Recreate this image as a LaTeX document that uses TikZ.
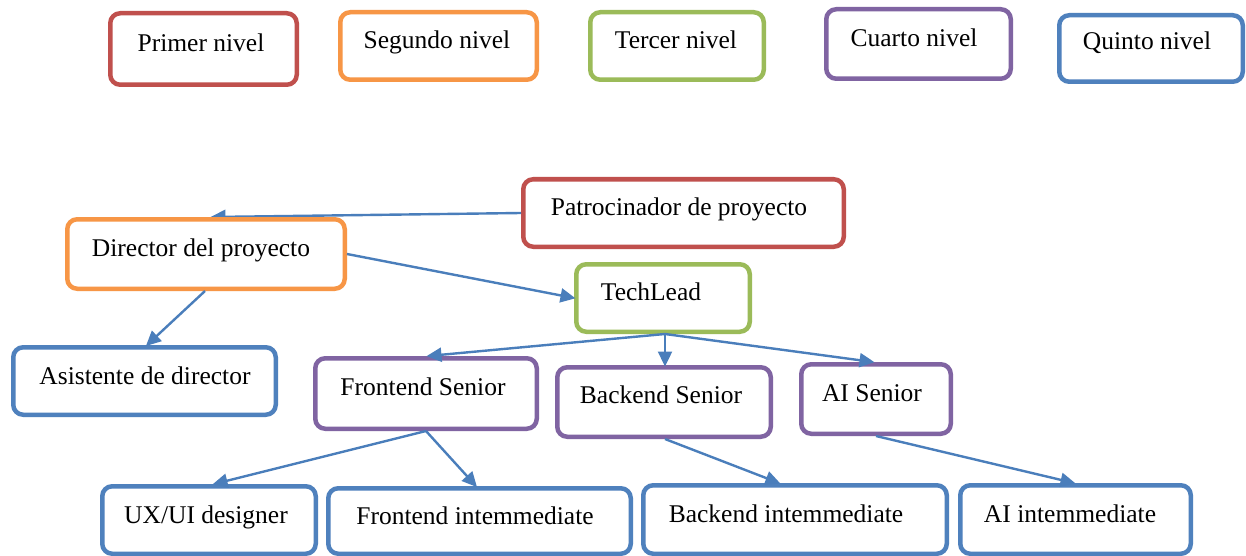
\documentclass[tikz,border=0pt]{standalone}
\usepackage{fontspec}
\setmainfont{Liberation Serif}
\usetikzlibrary{arrows.meta}
\definecolor{cred}{HTML}{C0504D}
\definecolor{corange}{HTML}{F79646}
\definecolor{cgreen}{HTML}{9BBB59}
\definecolor{cpurple}{HTML}{8064A2}
\definecolor{cblue}{HTML}{4F81BD}
\definecolor{carrow}{HTML}{4A7EBB}
\tikzset{
  box/.style={draw=#1, line width=4.5pt, rounded corners=10pt, fill=white, inner sep=0pt},
  lbl/.style={anchor=base, inner sep=0pt, font=\fontsize{25.5pt}{30pt}\selectfont},
  arr/.style={draw=carrow, line width=2.4pt, -{Triangle[length=15pt,width=14pt]}, shorten >=-1.5pt}
}
\begin{document}
\begin{tikzpicture}[x=1pt,y=-1pt]
\useasboundingbox[fill=white] (0,0) rectangle (1246,556);
% legend
\node[box=cred, minimum width=186.5pt, minimum height=71.5pt] (l1) at (203.5,49) {};
\node[box=corange, minimum width=196.5pt, minimum height=67.5pt] (l2) at (438.5,46) {};
\node[box=cgreen, minimum width=173.5pt, minimum height=67.5pt] (l3) at (677,46) {};
\node[box=cpurple, minimum width=184.5pt, minimum height=69.5pt] (l4) at (918.5,44) {};
\node[box=cblue, minimum width=183.5pt, minimum height=66.5pt] (l5) at (1151,48.5) {};
\node[lbl] (l1t) at (201,52) {Primer nivel};
\node[lbl] (l2t) at (437,49) {Segundo nivel};
\node[lbl] (l3t) at (676,49) {Tercer nivel};
\node[lbl] (l4t) at (914,47) {Cuarto nivel};
\node[lbl] (l5t) at (1147,50) {Quinto nivel};
% nodes of the chart
\node[box=cred, minimum width=320.5pt, minimum height=67.5pt] (pat) at (683.5,213) {};
\coordinate (patend) at (212,217);
\draw[arr] (pat.west) -- (patend);
\node[box=corange, minimum width=277.5pt, minimum height=69.5pt] (dir) at (206,254) {};
\node[box=cgreen, minimum width=173.5pt, minimum height=67.5pt] (tl) at (663,298) {};
\node[box=cblue, minimum width=262.5pt, minimum height=67.5pt] (asi) at (144.5,381) {};
\node[box=cpurple, minimum width=221.5pt, minimum height=70.5pt] (fs) at (426,393.5) {};
\node[box=cpurple, minimum width=213.5pt, minimum height=69.5pt] (bs) at (664,402) {};
\node[box=cpurple, minimum width=149.5pt, minimum height=69.5pt] (ais) at (876,399) {};
\node[box=cblue, minimum width=213.5pt, minimum height=67.5pt] (ux) at (209,520) {};
\node[box=cblue, minimum width=302.5pt, minimum height=65.5pt] (fi) at (479.5,521) {};
\node[box=cblue, minimum width=303.5pt, minimum height=68.5pt] (bi) at (795,519.5) {};
\node[box=cblue, minimum width=230.5pt, minimum height=68.5pt] (aii) at (1075.5,519.5) {};
% texts
\node[lbl] (patt) at (679,215) {Patrocinador de proyecto};
\node[lbl] (dirt) at (201,256) {Director del proyecto};
\node[lbl] (tlt) at (651,300) {TechLead};
\node[lbl] (asit) at (145,384) {Asistente de director};
\node[lbl] (fst) at (423,395) {Frontend Senior};
\node[lbl] (bst) at (661,403) {Backend Senior};
\node[lbl] (aist) at (872,401) {AI Senior};
\node[lbl] (uxt) at (206,523) {UX/UI designer};
\node[lbl] (fit) at (475,524) {Frontend intemmediate};
\node[lbl] (bit) at (786,522) {Backend intemmediate};
\node[lbl] (aiit) at (1070,522) {AI intemmediate};
% connectors
\draw[arr] (dir.east) -- (tl.west);
\draw[arr] ([xshift=-1pt]dir.south) -- ([xshift=2.5pt]asi.north);
\draw[arr] ([xshift=2pt]tl.south) -- ([xshift=2pt]fs.north);
\draw[arr] ([xshift=2pt]tl.south) -- ([xshift=1pt]bs.north);
\draw[arr] ([xshift=2pt]tl.south) -- ([xshift=-3pt]ais.north);
\draw[arr] (fs.south) -- ([xshift=5pt]ux.north);
\draw[arr] (fs.south) -- ([xshift=-3.5pt]fi.north);
\draw[arr] ([xshift=1pt]bs.south) -- ([xshift=-16pt]bi.north);
\draw[arr] (ais.south) -- ([xshift=-1.5pt]aii.north);
\end{tikzpicture}
\end{document}
